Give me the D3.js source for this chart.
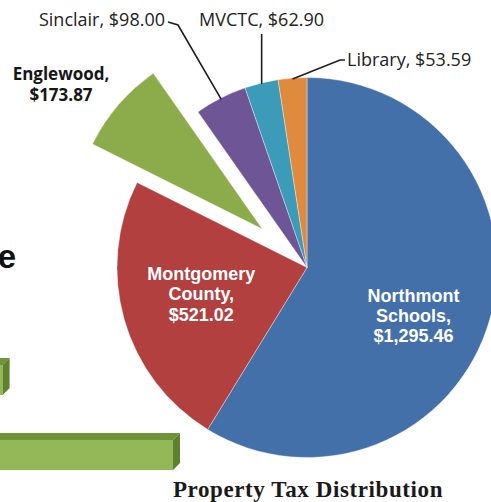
<!DOCTYPE html>
<html>
<head>
<meta charset="utf-8">
<script src="https://cdn.jsdelivr.net/npm/d3@7"></script>
<style>
html, body { margin: 0; padding: 0; background: #fff; overflow: hidden; }
</style>
</head>
<body>
<div id="chart"></div>
<script>
/* Property tax distribution pie — D3 v7 */
const categories = ['Northmont Schools', 'Montgomery County', 'Englewood', 'Sinclair', 'MVCTC', 'Library'];
const amounts = [1295.46, 521.02, 173.87, 98.00, 62.90, 53.59];
const chartTitle = 'Property Tax Distribution';

// fragments of the neighbouring slide content that the crop cuts through
const bgHeadingTail = 'e';
const bgBarValues = [1.5, 100];

const colors = ['#4470aa', '#b1403f', '#8cab4a', '#6e5595', '#3b9bb9', '#e08a3e'];
const explodedName = 'Englewood';
const explodeDist = 59;
const fmt = d3.format('$,.2f');

const W = 491, H = 502;
const cx = 307, cy = 267.5, R = 190;

const svg = d3.select('#chart').append('svg').attr('width', W).attr('height', H);

// background fragments (cropped slide)
svg.append('text').attr('x', 16).attr('y', 268).attr('text-anchor', 'end')
    .attr('font-family', 'Liberation Sans, Arial, sans-serif').attr('font-weight', 'bold')
    .attr('font-size', 33).attr('fill', '#111').text(bgHeadingTail);

const bx = d3.scaleLinear().domain([0, 100]).range([0, 173]);
const by = d3.scaleLinear().domain([0, 1]).range([358, 433]);
const depth = 7, barH = 30;
bgBarValues.forEach((v, i) => {
    const w = bx(v), y0 = by(i);
    const g = svg.append('g');
    g.append('rect').attr('x', 0).attr('y', y0 + depth).attr('width', w).attr('height', barH).attr('fill', '#94b757');
    g.append('path').attr('fill', '#6f9338')
        .attr('d', `M0,${y0 + depth}L${w},${y0 + depth}L${w + depth},${y0}L0,${y0}Z`);
    g.append('path').attr('fill', '#5e812d')
        .attr('d', `M${w},${y0 + depth}L${w + depth},${y0}L${w + depth},${y0 + barH}L${w},${y0 + depth + barH}Z`);
});

const data = categories.map((c, i) => ({ name: c, amount: amounts[i], color: colors[i] }));
const pie = d3.pie().value(d => d.amount).sort(null);
const arcs = pie(data);
const arc = d3.arc().innerRadius(0).outerRadius(R);
const mid = d => (d.startAngle + d.endAngle) / 2;

const root = svg.append('g').attr('transform', `translate(${cx},${cy})`);

root.selectAll('path.slice').data(arcs).enter().append('path')
    .attr('class', 'slice')
    .attr('transform', d => {
        const o = d.data.name === explodedName ? explodeDist : 0;
        return `translate(${Math.sin(mid(d)) * o},${-Math.cos(mid(d)) * o})`;
    })
    .attr('d', arc)
    .attr('fill', d => d.data.color)
    .attr('stroke', 'rgba(255,255,255,0.45)').attr('stroke-width', 0.8);

// inside labels
const insideCfg = {
    'Northmont Schools': { r: 118, dx: -7, dy: 16, lh: 20 },
    'Montgomery County': { r: 111, dx: 1, dy: -4, lh: 21 }
};
arcs.filter(d => insideCfg[d.data.name]).forEach(d => {
    const c = insideCfg[d.data.name];
    const p = d3.arc().innerRadius(c.r).outerRadius(c.r).centroid(d);
    const words = d.data.name.split(' ');
    const lines = words.map((w, i) => i === words.length - 1 ? w + ',' : w).concat(fmt(d.data.amount));
    const t = root.append('text').attr('text-anchor', 'middle')
        .attr('font-family', 'Liberation Sans, Arial, sans-serif').attr('font-weight', 'bold')
        .attr('font-size', 18).attr('fill', '#fff');
    const n = lines.length;
    lines.forEach((ln, i) => {
        t.append('tspan').attr('x', p[0] + c.dx)
            .attr('y', p[1] + c.dy + (i - (n - 1) / 2) * c.lh + 6.5).text(ln);
    });
});

// Englewood label (bold, no leader)
arcs.filter(d => d.data.name === explodedName).forEach(d => {
    const t = svg.append('text').attr('text-anchor', 'middle')
        .attr('font-family', 'Open Sans, sans-serif').attr('font-weight', 'bold')
        .attr('font-size', 17).attr('fill', '#161616');
    [d.data.name + ',', fmt(d.data.amount)].forEach((ln, i) => {
        t.append('tspan').attr('x', 61).attr('y', 80 + i * 21).text(ln);
    });
});

// outside labels with leader lines
const outsideCfg = {
    'Sinclair': { anchor: 'end', x: 165, y: 26, path: [[178, 25], [168, 22]] },
    'MVCTC': { anchor: 'middle', x: 261.5, y: 26, path: [[null, 34]] },
    'Library': { anchor: 'start', x: 347, y: 66, path: [[340, 60], [345, 60]] }
};
arcs.filter(d => outsideCfg[d.data.name]).forEach(d => {
    const c = outsideCfg[d.data.name];
    const a = mid(d);
    const start = [cx + Math.sin(a) * (R - 1), cy - Math.cos(a) * (R - 1)];
    const pts = [start].concat(c.path.map(p => [p[0] === null ? start[0] : p[0], p[1]]));
    svg.append('path').attr('d', d3.line()(pts)).attr('fill', 'none')
        .attr('stroke', '#1e1e1e').attr('stroke-width', 1.6);
    svg.append('text').attr('x', c.x).attr('y', c.y).attr('text-anchor', c.anchor)
        .attr('font-family', 'Open Sans, sans-serif').attr('font-size', 18).attr('fill', '#222')
        .text(d.data.name + ', ' + fmt(d.data.amount));
});

svg.append('text').attr('x', 308).attr('y', 497).attr('text-anchor', 'middle')
    .attr('font-family', 'Liberation Serif, Times New Roman, serif').attr('font-weight', 'bold')
    .attr('font-size', 23).attr('letter-spacing', 0.6).attr('fill', '#1a1a1a')
    .text(chartTitle);
</script>
</body>
</html>
